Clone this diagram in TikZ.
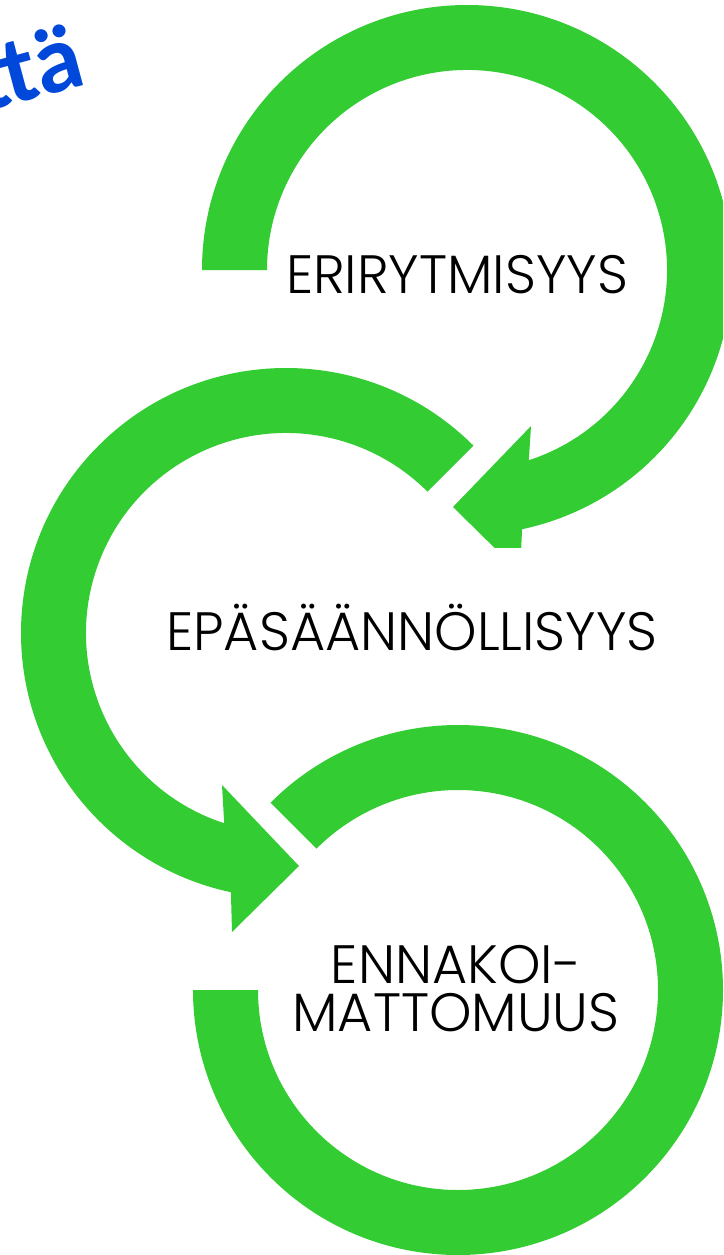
\documentclass[tikz,border=0pt]{standalone}
\usepackage{fontspec}
\usepackage{tikz}
\usetikzlibrary{calc}
\newfontfamily\bluefont{Carlito}
\IfFontExistsTF{Poppins Light}{\newfontfamily\gothic{Poppins Light}}{\newfontfamily\gothic{Poppins}}
\definecolor{ringgreen}{RGB}{51,204,51}
\definecolor{titleblue}{RGB}{0,72,218}

\begin{document}
\begin{tikzpicture}[x=1pt, y=1pt,
    ring/.style={fill=ringgreen, draw=none},
    phase/.style={inner sep=0pt, anchor=base, align=center,
      font=\gothic\fontsize{54}{48}\selectfont}]

  \useasboundingbox (0,0) rectangle (723,-1255);
  \clip (0,0) rectangle (723,-1255);

  % CENTRES
  \coordinate (c1) at (467,-270);
  \coordinate (c2) at (286,-633);
  \coordinate (c3) at (458,-990);

  % ARROWS
  \begin{scope}
    \clip (0,0) rectangle (723,-547);
    \fill[ring] ($(c1)+(180:265pt)$) arc[start angle=180, end angle=-78, radius=265pt]
      -- (520,-573) -- (453,-507) -- (531,-426)
      -- ($(c1)+(-72:200pt)$) arc[start angle=-72, end angle=180, radius=200pt] -- cycle;
  \end{scope}

  \fill[ring] ($(c2)+(45:265pt)$) arc[start angle=45, end angle=258, radius=265pt]
    -- (232,-932) -- (299,-866) -- (222,-785)
    -- ($(c2)+(252:200pt)$) arc[start angle=252, end angle=45, radius=200pt] -- cycle;

  \fill[ring] ($(c3)+(135:265pt)$) arc[start angle=135, end angle=-180, radius=265pt]
    -- ($(c3)+(180:200pt)$) arc[start angle=-180, end angle=135, radius=200pt] -- cycle;

  % TEXTS
  \node[phase] (erirytmisyys) at (457,-293) {ERIRYTMISYYS};
  \node[phase] (epasaannollisyys) at (412,-650) {EPÄSÄÄNNÖLLISYYS};
  \node[phase] (ennakoimattomuus) at (456,-1031) {ENNAKOI-\\MATTOMUUS};

  \node[inner sep=0pt, anchor=base east, rotate=15, text=titleblue,
    font=\bluefont\bfseries\fontsize{96}{96}\selectfont] (blueword) at (88,-84) {ttä};

\end{tikzpicture}
\end{document}
